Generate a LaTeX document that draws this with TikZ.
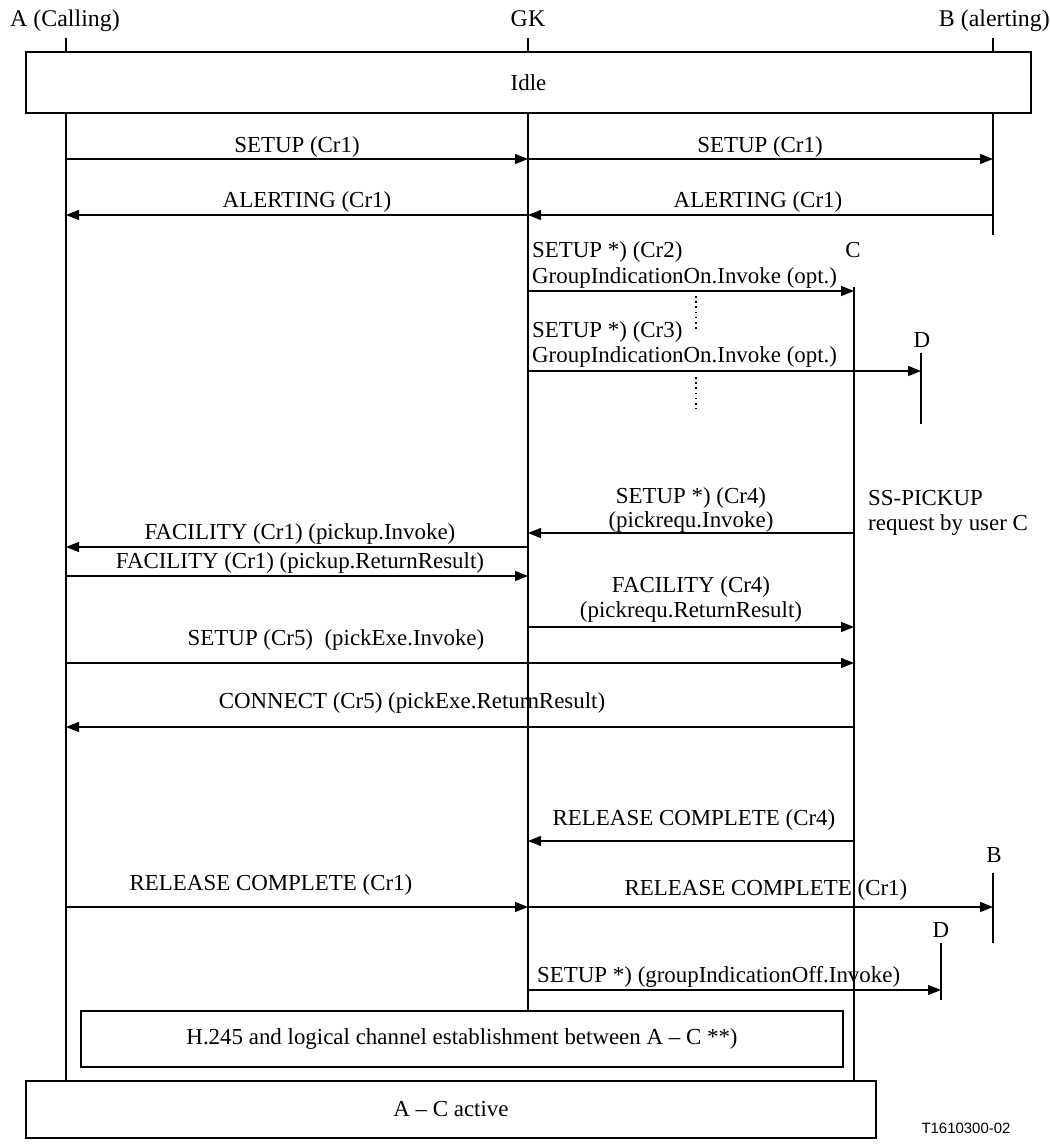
\documentclass[tikz,border=0pt]{standalone}
\usepackage{fontspec}
\setmainfont{Liberation Serif}
\newfontfamily\tagfont{Liberation Sans}
\usetikzlibrary{arrows.meta}
\tikzset{
  lbl/.style={font=\fontsize{23}{25}\selectfont, inner sep=0pt, anchor=base},
  lbll/.style={lbl, anchor=base west},
  life/.style={line width=1.2bp},
  msg/.style={line width=1.2bp, -{Triangle[length=13bp,width=10bp]}},
  dots/.style={line width=1.6bp, dash pattern=on 1.6bp off 3.6bp},
  box/.style={draw, line width=1.2bp, inner sep=0pt, font=\fontsize{23}{25}\selectfont}
}
\begin{document}
\begin{tikzpicture}[x=1bp,y=-1bp]
\useasboundingbox (0,0) rectangle (1050,1147);
% headers
\node[lbl, font=\fontsize{24}{26}\selectfont] (hA) at (65,26) {A (Calling)};
\node[lbl, font=\fontsize{24}{26}\selectfont] (hG) at (528,26) {GK};
\node[lbl, anchor=base east, font=\fontsize{24}{26}\selectfont] (hB) at (1050,26) {B (alerting)};
% idle box
\node[box, minimum width=1005bp, minimum height=61bp] (idle) at (528.5,82.5) {Idle};
\coordinate (A0) at (66,38); \coordinate (G0) at (528,38); \coordinate (B0) at (993,38);
\draw[life] (A0) -- (A0 |- idle.north);
\draw[life] (G0) -- (G0 |- idle.north);
\draw[life] (B0) -- (B0 |- idle.north);
% bottom boxes
\node[box, minimum width=762bp, minimum height=56bp] (h245) at (462,1039) {H.245 and logical channel establishment between A -- C **)};
\node[box, minimum width=850bp, minimum height=57bp] (active) at (451,1109.5) {A -- C active};
% lifelines
\coordinate (Aend) at (66,1081); \coordinate (Gend) at (528,1011);
\coordinate (Cend) at (854,1081);
\draw[life] (idle.south -| A0) -- (Aend);
\draw[life] (idle.south -| G0) -- (Gend);
\draw[life] (idle.south -| B0) -- (993,235) coordinate (Bend);
\coordinate (Ctop) at (854,287);
\draw[life] (Ctop) -- (Cend);
\node[lbl] (Clab) at (853,257) {C};
% D first
\node[lbl] (D1lab) at (922,347) {D};
\coordinate (D1top) at (921,353); \coordinate (D1bot) at (921,424);
\draw[life] (D1top) -- (D1bot);
% B second
\node[lbl] (B2lab) at (994,862) {B};
\coordinate (B2top) at (993,873); \coordinate (B2bot) at (993,943);
\draw[life] (B2top) -- (B2bot);
% D second
\node[lbl] (D2lab) at (941,937) {D};
\coordinate (D2top) at (941,943); \coordinate (D2bot) at (941,1000);
\draw[life] (D2top) -- (D2bot);

% messages
\coordinate (a1) at (66,159); \coordinate (g1) at (528,159); \coordinate (b1) at (993,159);
\draw[msg] (a1) -- (g1); \draw[msg] (g1) -- (b1);
\node[lbl] (m1) at (297,152) {SETUP (Cr1)};
\node[lbl] (m1b) at (760,152) {SETUP (Cr1)};

\coordinate (a2) at (66,215); \coordinate (g2) at (528,215); \coordinate (b2) at (993,215);
\draw[msg] (g2) -- (a2); \draw[msg] (b2) -- (g2);
\node[lbl] (m2) at (307,207) {ALERTING (Cr1)};
\node[lbl] (m2b) at (758,207) {ALERTING (Cr1)};

\coordinate (g3) at (528,291); \coordinate (c3) at (854,291);
\draw[msg] (g3) -- (c3);
\node[lbll] (m3) at (532,257) {SETUP *) (Cr2)};
\node[lbll] (m3b) at (532,283) {GroupIndicationOn.Invoke (opt.)};
\coordinate (p1) at (696,296); \coordinate (p2) at (696,329);
\draw[dots] (p1) -- (p2);

\coordinate (g4) at (528,371); \coordinate (d4) at (921,371);
\draw[msg] (g4) -- (d4);
\node[lbll] (m4) at (532,337) {SETUP *) (Cr3)};
\node[lbll] (m4b) at (532,362) {GroupIndicationOn.Invoke (opt.)};
\coordinate (p3) at (696,377); \coordinate (p4) at (696,409);
\draw[dots] (p3) -- (p4);

\coordinate (c5) at (854,533); \coordinate (g5) at (528,533);
\draw[msg] (c5) -- (g5);
\node[lbl] (m5) at (691,503) {SETUP *) (Cr4)};
\node[lbl] (m5b) at (691,527) {(pickrequ.Invoke)};
\node[lbll] (ss1) at (868,505) {SS-PICKUP};
\node[lbll] (ss2) at (868,530) {request by user C};

\coordinate (g6) at (528,547); \coordinate (a6) at (66,547);
\draw[msg] (g6) -- (a6);
\node[lbl] (m6) at (300,539) {FACILITY (Cr1) (pickup.Invoke)};

\coordinate (a7) at (66,576); \coordinate (g7) at (528,576);
\draw[msg] (a7) -- (g7);
\node[lbl] (m7) at (300,568) {FACILITY (Cr1) (pickup.ReturnResult)};

\coordinate (g8) at (528,627); \coordinate (c8) at (854,627);
\draw[msg] (g8) -- (c8);
\node[lbl] (m8) at (691,592) {FACILITY (Cr4)};
\node[lbl] (m8b) at (691,617) {(pickrequ.ReturnResult)};

\coordinate (a9) at (66,663); \coordinate (c9) at (854,663);
\draw[msg] (a9) -- (c9);
\node[lbl] (m9) at (336,645) {SETUP (Cr5)\ \ (pickExe.Invoke)};

\coordinate (c10) at (854,727); \coordinate (a10) at (66,727);
\draw[msg] (c10) -- (a10);
\node[lbl] (m10) at (412,708) {CONNECT (Cr5) (pickExe.ReturnResult)};

\coordinate (c11) at (854,841); \coordinate (g11) at (528,841);
\draw[msg] (c11) -- (g11);
\node[lbl] (m11) at (694,825) {RELEASE COMPLETE (Cr4)};

\coordinate (a12) at (66,907); \coordinate (g12) at (528,907); \coordinate (b12) at (993,907);
\draw[msg] (a12) -- (g12); \draw[msg] (g12) -- (b12);
\node[lbl] (m12) at (271,890) {RELEASE COMPLETE (Cr1)};
\node[lbl] (m12b) at (766,895) {RELEASE COMPLETE (Cr1)};

\coordinate (g13) at (528,990); \coordinate (d13) at (941,990);
\draw[msg] (g13) -- (d13);
\node[lbll] (m13) at (537,982) {SETUP *) (groupIndicationOff.Invoke)};

\node[font=\tagfont\fontsize{15}{17}\selectfont, inner sep=0pt] (tag) at (966,1128) {T1610300-02};
\end{tikzpicture}
\end{document}
